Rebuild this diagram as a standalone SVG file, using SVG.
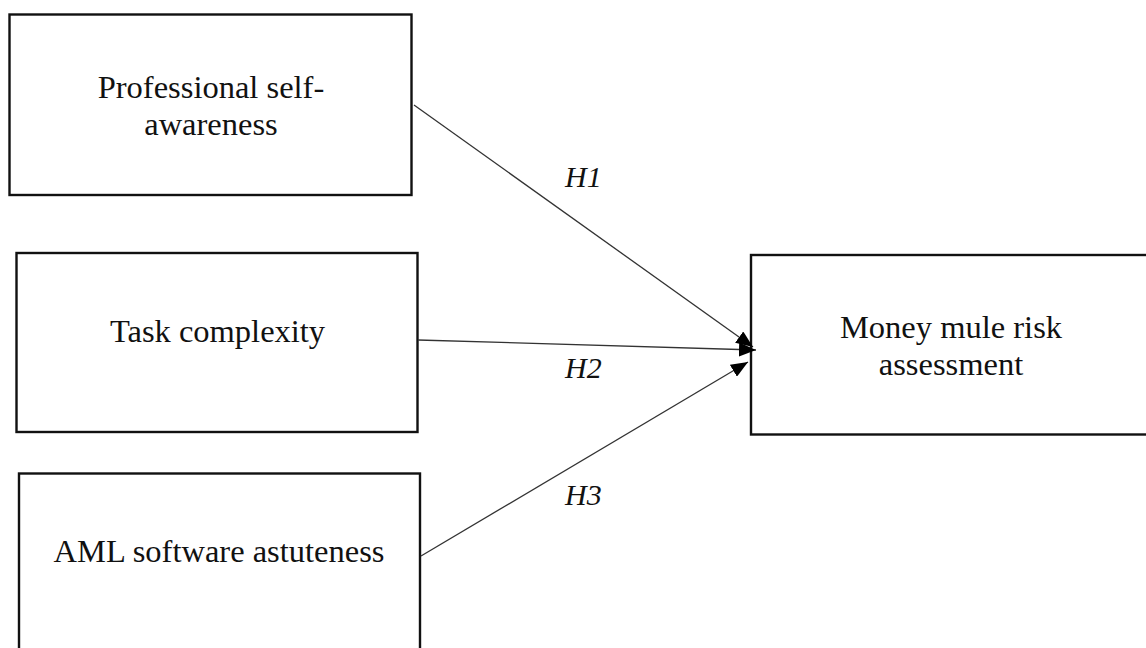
<svg xmlns="http://www.w3.org/2000/svg" width="1146" height="648" viewBox="0 0 1146 648">
<style>
.box{fill:#fff;stroke:#111;stroke-width:2.4}
.t{font-family:"Liberation Serif","Times New Roman",serif;font-size:32.5px;fill:#111;text-anchor:middle}
.h{font-family:"Liberation Serif","Times New Roman",serif;font-size:30px;font-style:italic;fill:#111}
.c{stroke:#333;stroke-width:1.3;fill:none;marker-end:url(#ah)}
</style>
<defs>
<marker id="ah" markerUnits="userSpaceOnUse" markerWidth="18" markerHeight="14" refX="17" refY="7" orient="auto">
<path d="M0,0 L17,7 L0,14 z" fill="#000"/>
</marker>
</defs>
<rect width="1146" height="648" fill="#fff"/>
<g id="n1">
<rect class="box" x="9.5" y="14.5" width="402" height="180.5"/>
<text class="t" x="211" y="97.7">Professional self-</text>
<text class="t" x="211" y="135">awareness</text>
</g>
<g id="n2">
<rect class="box" x="16.5" y="253" width="401" height="179"/>
<text class="t" x="217.5" y="341.7">Task complexity</text>
</g>
<g id="n3">
<rect class="box" x="19" y="473.5" width="401" height="190"/>
<text class="t" x="219" y="562.3">AML software astuteness</text>
</g>
<g id="n4">
<rect class="box" x="751" y="255" width="410" height="179.5"/>
<text class="t" x="951" y="337.7">Money mule risk</text>
<text class="t" x="951" y="375">assessment</text>
</g>
<g id="connectors">
<line class="c" x1="414" y1="105" x2="753" y2="347"/>
<line class="c" x1="418" y1="340" x2="756" y2="350"/>
<line class="c" x1="421" y1="556" x2="748" y2="362"/>
<text class="h" x="565" y="186.7">H1</text>
<text class="h" x="565" y="378.3">H2</text>
<text class="h" x="565" y="505">H3</text>
</g>
</svg>
